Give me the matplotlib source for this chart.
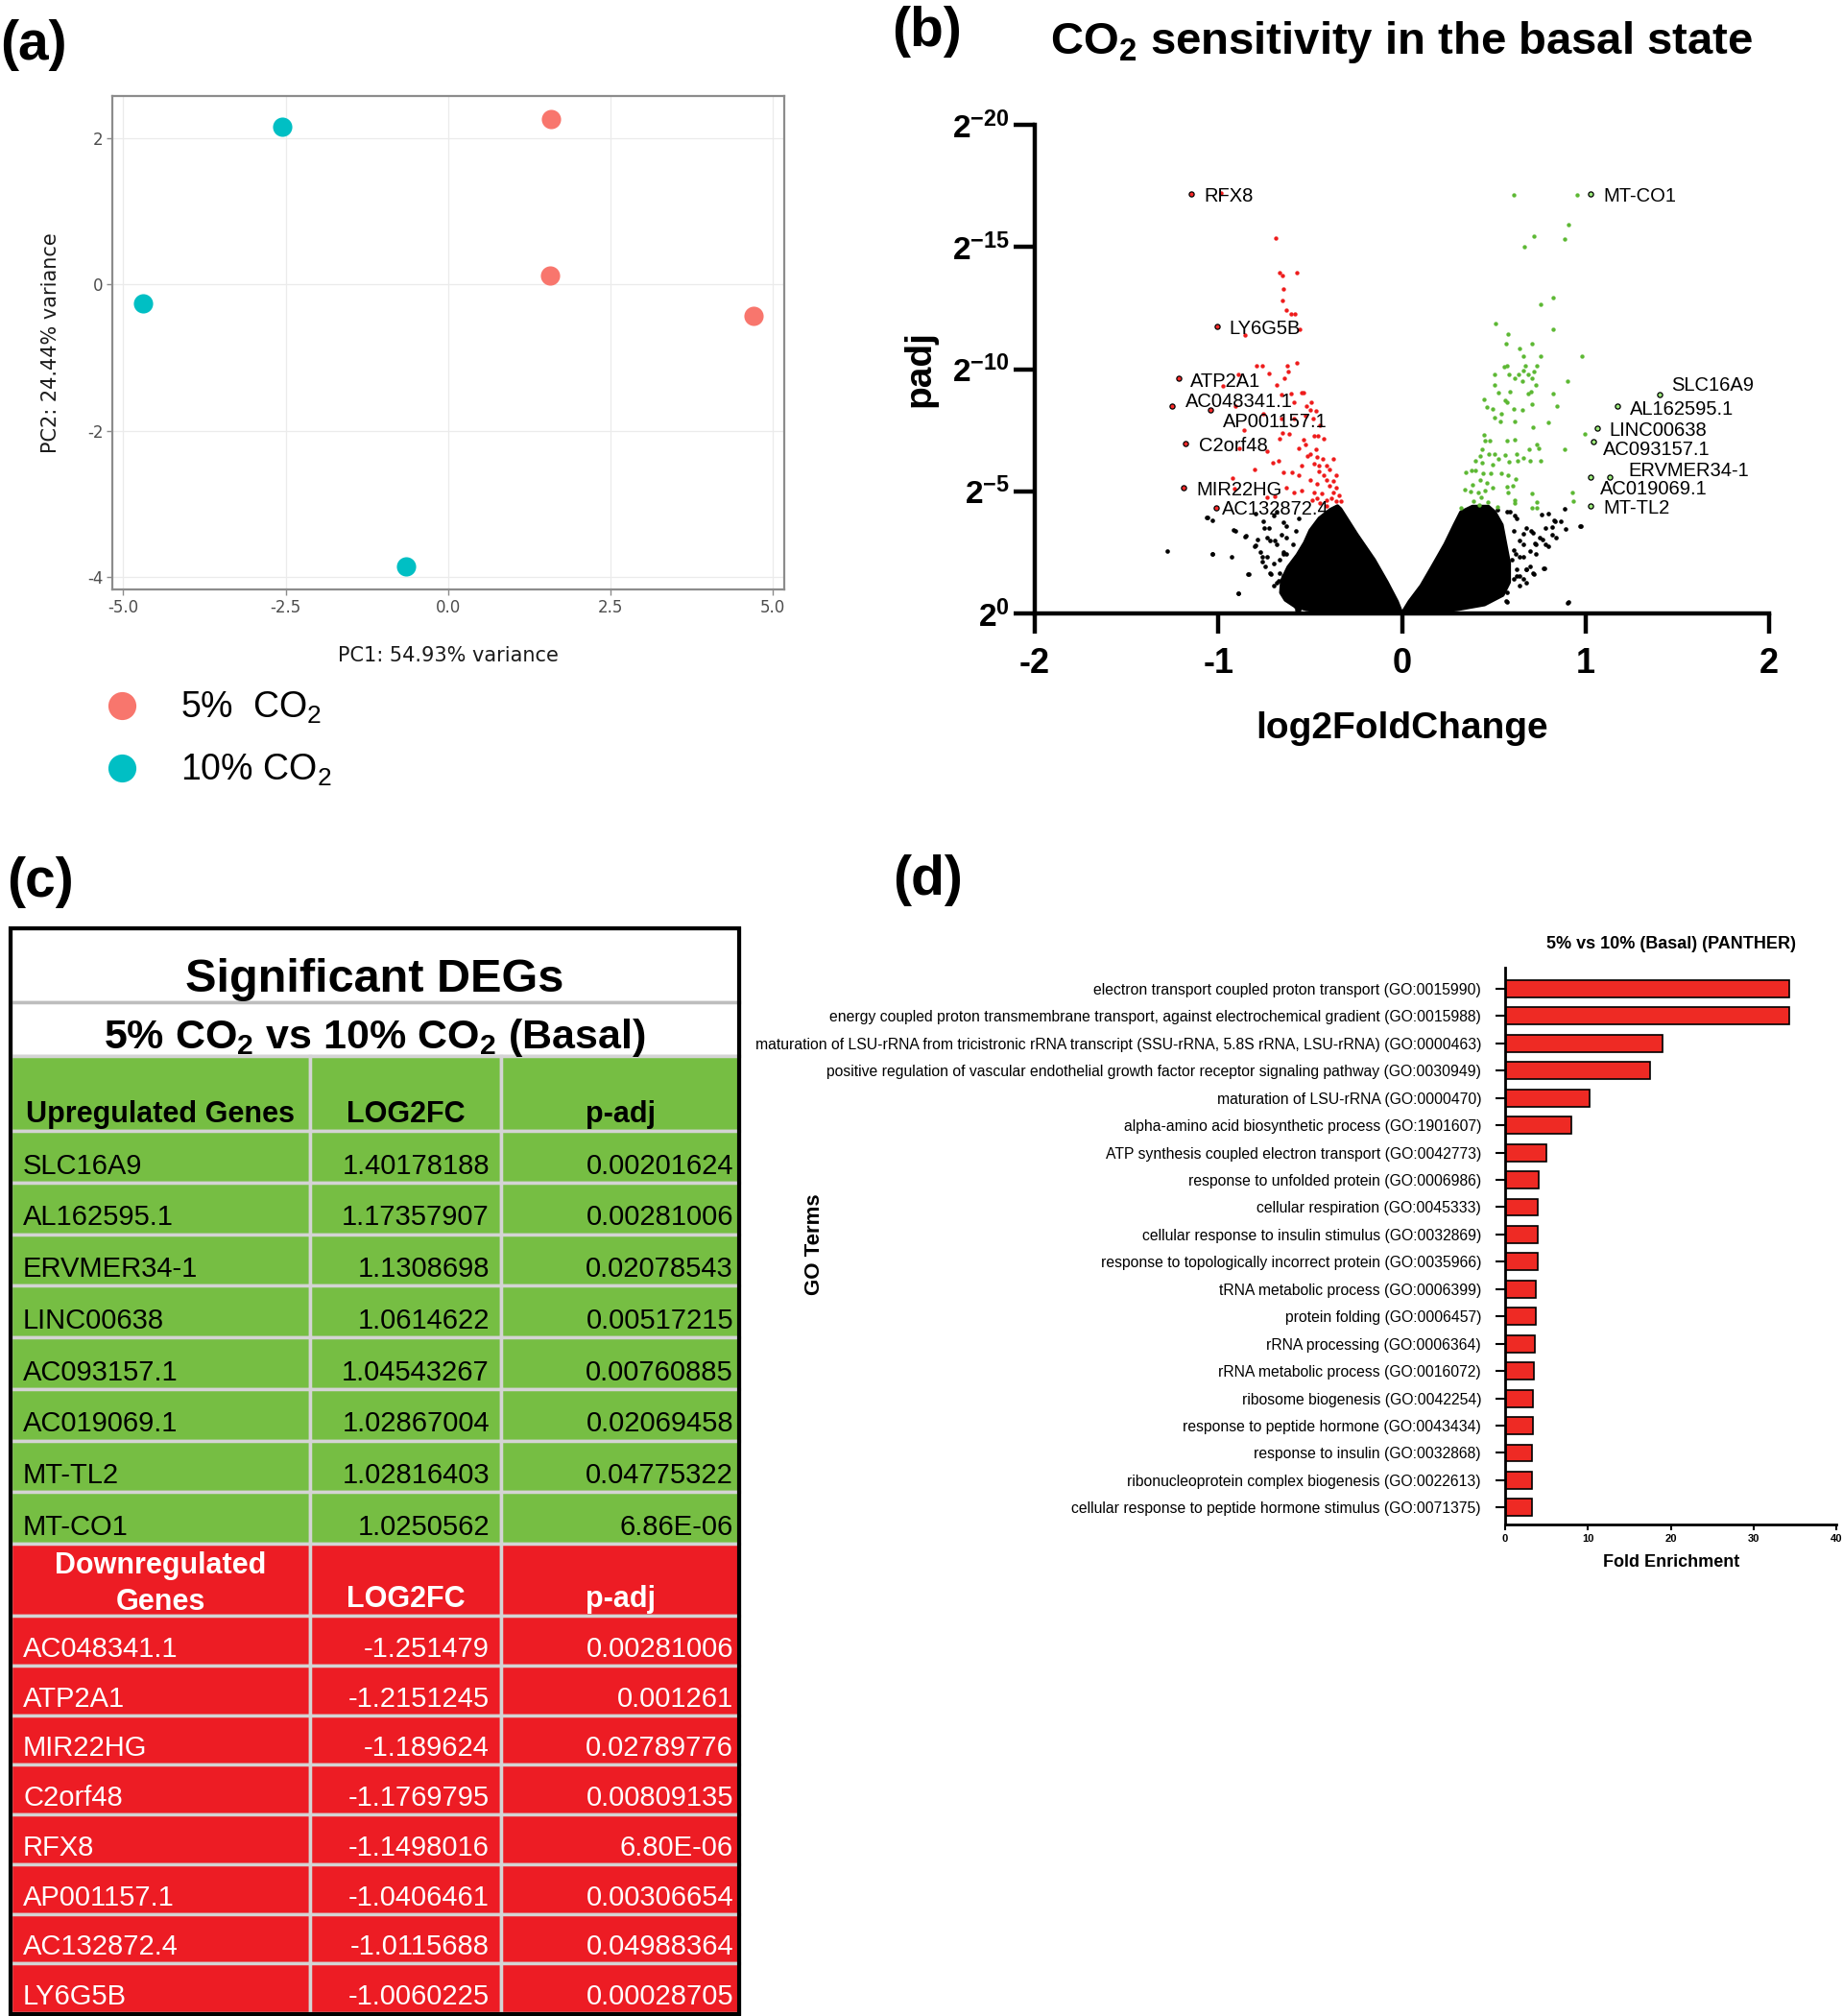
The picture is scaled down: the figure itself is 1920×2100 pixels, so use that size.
import numpy as np
import matplotlib
matplotlib.use('Agg')
import matplotlib.pyplot as plt
from matplotlib.lines import Line2D
from matplotlib.patches import Rectangle
from matplotlib.ticker import NullLocator

plt.rcParams['font.family'] = ['Liberation Sans', 'DejaVu Sans']
plt.rcParams['mathtext.fontset'] = 'custom'
plt.rcParams['mathtext.rm'] = 'Liberation Sans'
plt.rcParams['mathtext.bf'] = 'Liberation Sans:bold'
plt.rcParams['mathtext.it'] = 'Liberation Sans:italic'

# ---- (a) PCA ----
pca_pc1 = [1.59, 1.57, 4.71, -2.55, -4.69, -0.65]
pca_pc2 = [2.26, 0.13, -0.43, 2.16, -0.26, -3.85]
pca_group = ['5%', '5%', '5%', '10%', '10%', '10%']

# ---- (c) table / labelled genes in (b) ----
up_genes = ['SLC16A9', 'AL162595.1', 'ERVMER34-1', 'LINC00638', 'AC093157.1',
            'AC019069.1', 'MT-TL2', 'MT-CO1']
up_log2fc = ['1.40178188', '1.17357907', '1.1308698', '1.0614622', '1.04543267',
             '1.02867004', '1.02816403', '1.0250562']
up_padj = ['0.00201624', '0.00281006', '0.02078543', '0.00517215', '0.00760885',
           '0.02069458', '0.04775322', '6.86E-06']
down_genes = ['AC048341.1', 'ATP2A1', 'MIR22HG', 'C2orf48', 'RFX8', 'AP001157.1',
              'AC132872.4', 'LY6G5B']
down_log2fc = ['-1.251479', '-1.2151245', '-1.189624', '-1.1769795', '-1.1498016',
               '-1.0406461', '-1.0115688', '-1.0060225']
down_padj = ['0.00281006', '0.001261', '0.02789776', '0.00809135', '6.80E-06',
             '0.00306654', '0.04988364', '0.00028705']

# ---- (b) volcano: other genes, as (log2FC, -log2 padj) ----
red_fc = [-0.985, -0.689, -0.667, -0.650, -0.571, -0.646, -0.649, -0.628, -0.604, -0.585,
          -0.556, -0.857, -0.794, -0.761, -0.627, -0.571, -0.722, -0.622, -0.642, -0.892,
          -0.977, -0.680, -0.656, -0.603, -0.548, -0.536, -0.586, -0.519, -0.493, -0.470,
          -0.501, -0.909, -0.754, -0.655, -0.586, -0.528, -0.485, -0.445, -0.860, -0.667,
          -0.652, -0.614, -0.536, -0.479, -0.457, -0.428, -0.562, -0.528, -0.886, -0.737,
          -0.470, -0.513, -0.499, -0.462, -0.431, -0.376, -0.703, -0.672, -0.479, -0.452,
          -0.411, -0.394, -0.544, -0.805, -0.646, -0.598, -0.563, -0.452, -0.427, -0.359,
          -0.500, -0.921, -0.411, -0.376, -0.465, -0.394, -0.359, -0.913, -0.632, -0.589,
          -0.546, -0.479, -0.436, -0.376, -0.341, -0.737, -0.694, -0.488, -0.462, -0.411,
          -0.385, -0.359, -0.333, -0.445, -0.411]
red_nlp = [17.2, 15.36, 13.93, 13.84, 13.94, 13.30, 12.82, 12.43, 12.24, 12.24,
           11.65, 11.38, 10.13, 10.13, 10.13, 10.25, 9.81, 9.89, 9.62, 9.79,
           9.30, 9.36, 8.97, 8.99, 9.05, 9.02, 8.65, 8.49, 8.64, 8.29,
           8.34, 8.48, 8.17, 7.96, 7.99, 8.09, 7.96, 7.70, 7.50, 7.17,
           7.37, 7.33, 7.11, 7.28, 7.28, 7.15, 6.77, 6.90, 6.77, 6.64,
           6.71, 6.45, 6.52, 6.39, 6.32, 6.32, 6.16, 6.25, 6.12, 6.05,
           6.05, 5.89, 6.05, 5.89, 5.76, 5.76, 5.67, 5.80, 5.67, 5.67,
           5.48, 5.54, 5.48, 5.41, 5.29, 5.22, 5.16, 5.10, 5.16, 4.97,
           5.03, 4.97, 4.90, 4.97, 4.84, 4.77, 4.81, 4.64, 4.71, 4.64,
           4.71, 4.58, 4.58, 4.52, 4.39]
green_fc = [0.608, 0.956, 0.908, 0.887, 0.720, 0.669, 0.825, 0.755, 0.826, 0.512,
            0.580, 0.565, 0.708, 0.638, 0.659, 0.757, 0.980, 0.556, 0.570, 0.670,
            0.736, 0.507, 0.584, 0.612, 0.635, 0.664, 0.687, 0.718, 0.656, 0.709,
            0.730, 0.900, 0.507, 0.525, 0.586, 0.688, 0.704, 0.821, 0.445, 0.462,
            0.492, 0.560, 0.574, 0.540, 0.610, 0.656, 0.709, 0.846, 0.505, 0.537,
            0.612, 0.713, 0.798, 0.997, 0.445, 0.452, 0.479, 0.572, 0.612, 0.736,
            0.743, 0.694, 0.886, 0.434, 0.425, 0.472, 0.504, 0.528, 0.560, 0.626,
            0.664, 0.399, 0.434, 0.492, 0.584, 0.631, 0.696, 0.753, 0.350, 0.378,
            0.402, 0.443, 0.486, 0.539, 0.579, 0.619, 0.424, 0.462, 0.382, 0.605,
            0.574, 0.340, 0.374, 0.414, 0.451, 0.495, 0.579, 0.706, 0.926, 0.931,
            0.389, 0.430, 0.469, 0.420, 0.320, 0.612, 0.612, 0.734, 0.708, 0.736,
            0.521]
green_nlp = [17.15, 17.15, 15.91, 15.34, 15.46, 15.00, 12.91, 12.65, 11.63, 11.86,
             11.44, 11.06, 11.06, 10.86, 10.52, 10.52, 10.52, 10.08, 10.12, 10.12,
             10.12, 9.77, 9.78, 9.63, 9.78, 9.94, 9.78, 9.91, 9.51, 9.63,
             9.34, 9.51, 9.34, 9.04, 9.08, 8.99, 9.08, 8.98, 8.76, 8.45,
             8.36, 8.74, 8.63, 8.19, 8.37, 8.33, 8.58, 8.48, 8.02, 7.86,
             7.87, 7.62, 7.82, 7.35, 7.30, 7.09, 7.09, 7.06, 7.11, 6.90,
             6.77, 6.71, 6.72, 6.72, 6.44, 6.51, 6.51, 6.31, 6.47, 6.51,
             6.38, 6.24, 6.18, 6.11, 6.20, 6.24, 6.24, 6.24, 5.77, 5.87,
             5.87, 5.75, 5.72, 5.75, 5.66, 5.49, 5.47, 5.34, 5.27, 5.21,
             5.17, 5.07, 5.00, 4.96, 5.04, 5.13, 4.94, 4.90, 4.94, 4.58,
             4.61, 4.74, 4.55, 4.44, 4.32, 4.65, 4.52, 4.57, 4.32, 4.32,
             4.35]
ns_fc = [-1.279, -1.061, -1.035, -0.909, -0.853, -1.035, -0.927, -0.836, -0.892, -0.801,
         -0.759, -0.714, -0.674, -0.622, -0.564, -0.460, -0.682, -0.752, -0.717, -0.648,
         -0.648, -0.612, -0.560, -0.543, -0.368, -0.298, -0.575, -1.066, -0.918, -0.848,
         -0.796, -0.770, -0.735, -0.787, -0.735, -0.683, -0.630, -0.700, -0.665, -0.683,
         -1.031, -0.839, -0.891, -0.578, -0.560, -0.456, -0.299, -0.753, -0.700, -0.630,
         -0.578, -0.560, -0.796, -0.647, -0.595, -0.718, -0.726, -0.656, -0.691, -0.595,
         -0.744, -0.648, -0.700, -0.612, -0.595, -0.543, -0.665, -0.761, -0.630, -0.578,
         0.971, 0.901, 0.888, 0.867, 0.830, 0.891, 0.839, 0.783, 0.818, 0.795,
         0.762, 0.701, 0.664, 0.764, 0.795, 0.722, 0.696, 0.769, 0.717, 0.678,
         0.640, 0.608, 0.661, 0.565, 0.434, 0.364, 0.617, 0.613, 0.586, 0.521,
         0.574, 0.626, 0.678, 0.713, 0.731, 0.643, 0.609, 0.661, 0.696, 0.626,
         0.775, 0.784, 0.818, 0.836, 0.975, 0.905, 0.643, 0.574, 0.469, 0.574,
         0.713, 0.748, 0.609, 0.643, 0.678, 0.626, 0.731, 0.661, 0.600, 0.678]
ns_nlp = [2.55, 3.91, 3.82, 3.36, 3.15, 2.45, 2.33, 1.62, 0.81, 2.77,
          2.32, 1.61, 1.33, 0.55, 0.20, 0.35, 4.15, 3.49, 2.97, 3.75,
          2.45, 1.93, 1.27, 0.75, 0.22, 0.22, 0.15, 3.91, 3.43, 3.17,
          2.78, 2.51, 2.31, 3.04, 3.10, 2.84, 3.10, 2.05, 1.66, 1.27,
          2.45, 1.60, 0.81, 0.29, 0.16, 0.36, 0.36, 3.76, 4.02, 3.56,
          3.36, 3.89, 4.08, 2.51, 2.05, 1.66, 3.50, 3.24, 2.97, 2.84,
          1.92, 1.53, 1.14, 0.94, 1.27, 2.05, 2.19, 2.12, 2.45, 1.53,
          3.56, 0.42, 4.28, 3.76, 3.82, 3.44, 3.12, 3.49, 3.52, 4.08,
          4.04, 3.36, 3.26, 3.04, 2.74, 2.87, 2.55, 1.86, 1.63, 1.79,
          1.53, 1.40, 1.40, 0.51, 0.51, 0.42, 2.45, 4.02, 4.15, 4.24,
          4.15, 3.89, 3.49, 3.30, 2.84, 2.97, 2.58, 2.32, 1.93, 1.79,
          1.86, 2.84, 3.23, 3.76, 3.56, 0.49, 1.14, 0.49, 0.55, 0.88,
          1.66, 3.10, 3.37, 2.32, 1.79, 1.53, 2.45, 2.84, 2.19, 1.27]
# outline of the dense non-significant cloud
cloud_left_fc = [0.0, -0.20, -0.40, -0.52, -0.585, -0.635, -0.66, -0.655, -0.62, -0.57,
                 -0.53, -0.50, -0.45, -0.39, -0.351, -0.334, -0.246, -0.151, -0.081, -0.026,
                 0.0]
cloud_left_nlp = [0.0, 0.02, 0.06, 0.16, 0.30, 0.55, 0.85, 1.35, 1.90, 2.40,
                  2.90, 3.40, 3.90, 4.25, 4.40, 4.28, 3.24, 2.20, 1.28, 0.49,
                  0.0]
cloud_right_fc = [0.0, 0.04, 0.105, 0.166, 0.235, 0.286, 0.321, 0.384, 0.471, 0.506,
                  0.545, 0.565, 0.585, 0.585, 0.55, 0.45, 0.30, 0.12, 0.0]
cloud_right_nlp = [0.0, 0.49, 1.14, 1.93, 2.84, 3.63, 4.15, 4.38, 4.38, 4.15,
                   3.63, 2.84, 2.06, 1.28, 0.75, 0.36, 0.16, 0.02, 0.0]

# ---- (d) GO enrichment ----
go_terms = [
    'electron transport coupled proton transport (GO:0015990)',
    'energy coupled proton transmembrane transport, against electrochemical gradient (GO:0015988)',
    'maturation of LSU-rRNA from tricistronic rRNA transcript (SSU-rRNA, 5.8S rRNA, LSU-rRNA) (GO:0000463)',
    'positive regulation of vascular endothelial growth factor receptor signaling pathway (GO:0030949)',
    'maturation of LSU-rRNA (GO:0000470)',
    'alpha-amino acid biosynthetic process (GO:1901607)',
    'ATP synthesis coupled electron transport (GO:0042773)',
    'response to unfolded protein (GO:0006986)',
    'cellular respiration (GO:0045333)',
    'cellular response to insulin stimulus (GO:0032869)',
    'response to topologically incorrect protein (GO:0035966)',
    'tRNA metabolic process (GO:0006399)',
    'protein folding (GO:0006457)',
    'rRNA processing (GO:0006364)',
    'rRNA metabolic process (GO:0016072)',
    'ribosome biogenesis (GO:0042254)',
    'response to peptide hormone (GO:0043434)',
    'response to insulin (GO:0032868)',
    'ribonucleoprotein complex biogenesis (GO:0022613)',
    'cellular response to peptide hormone stimulus (GO:0071375)',
]
fold_enrichment = [34.3, 34.3, 19.0, 17.5, 10.2, 8.0, 5.0, 4.0, 3.95, 3.95,
                   3.95, 3.7, 3.7, 3.6, 3.45, 3.4, 3.4, 3.3, 3.3, 3.3]

# label offsets in pixels (right, down) for the volcano gene names
label_offset = {
    'RFX8': (13.7, 2), 'LY6G5B': (12.7, 3.3), 'ATP2A1': (12, 3.7),
    'AC048341.1': (13.3, -5), 'AP001157.1': (12.3, 12.7), 'C2orf48': (13.3, 2.3),
    'MIR22HG': (13.3, 2.7), 'AC132872.4': (6, 1.7), 'MT-CO1': (13.7, 2),
    'AL162595.1': (12.7, 2.7), 'LINC00638': (12.7, 2.3), 'AC093157.1': (9.7, 9),
    'ERVMER34-1': (20, -6), 'AC019069.1': (10, 12.7), 'MT-TL2': (13.7, 2.3),
    'SLC16A9': (13, -10),
}

W, H = 1920, 2100
fig = plt.figure(figsize=(W / 100, H / 100), dpi=100)


def box(l, t, r, b):
    return [l / W, 1 - b / H, (r - l) / W, (b - t) / H]


def fx(x):
    return x / W


def fy(y):
    return 1 - y / H


for lab, x, y in [('(a)', 0, 47), ('(b)', 929, 33), ('(c)', 7, 919), ('(d)', 930, 917)]:
    fig.text(fx(x), fy(y), lab, fontsize=41, weight='bold', ha='left', va='center')

# ================= (a) PCA =================
pca_colors = {'5%': '#F8766D', '10%': '#00BFC4'}
ax = fig.add_axes(box(117, 100, 817, 614))
for g in ['5%', '10%']:
    xs = [x for x, gg in zip(pca_pc1, pca_group) if gg == g]
    ys = [y for y, gg in zip(pca_pc2, pca_group) if gg == g]
    ax.scatter(xs, ys, s=210, color=pca_colors[g], lw=0, zorder=3)
ax.set_xlim(-5.17, 5.18)
ax.set_ylim(-4.17, 2.58)
ax.set_xticks([-5, -2.5, 0, 2.5, 5])
ax.set_xticklabels(['-5.0', '-2.5', '0.0', '2.5', '5.0'], family='DejaVu Sans')
ax.set_yticks([-4, -2, 0, 2])
ax.set_yticklabels(['-4', '-2', '0', '2'], family='DejaVu Sans')
ax.grid(color='#EBEBEB', lw=0.9)
ax.set_axisbelow(True)
for s in ax.spines.values():
    s.set_color('#8C8C8C')
    s.set_linewidth(1.6)
ax.tick_params(colors='#8C8C8C', labelcolor='#4D4D4D', labelsize=12, length=4, width=1, pad=3)
ax.set_xlabel('PC1: 54.93% variance', family='DejaVu Sans', fontsize=15, color='#1A1A1A')
ax.set_ylabel('PC2: 24.44% variance', family='DejaVu Sans', fontsize=15, color='#1A1A1A')
ax.xaxis.set_label_coords(0.5, -0.115)
ax.yaxis.set_label_coords(-0.077, 0.5)

handles = [Line2D([], [], marker='o', ls='', color=pca_colors[g], markersize=21, mew=0)
           for g in ['5%', '10%']]
fig.legend(handles, ['5%  CO$_2$', '10% CO$_2$'], loc='upper left',
           bbox_to_anchor=(fx(108), fy(719)), frameon=False, fontsize=27,
           handlelength=1.0, handletextpad=1.14, labelspacing=0.74,
           borderpad=0, borderaxespad=0)

# ================= (b) volcano =================
bx = fig.add_axes(box(1078, 130, 1843, 639))
bx.set_yscale('log', base=2)
for cfc, cnl in [(cloud_left_fc, cloud_left_nlp), (cloud_right_fc, cloud_right_nlp)]:
    bx.fill(cfc, 2.0 ** -np.array(cnl), facecolor='black', edgecolor='black',
            lw=2.5, joinstyle='round', zorder=2)
bx.scatter(ns_fc, 2.0 ** -np.array(ns_nlp), s=11, c='black', lw=0, zorder=2)
bx.scatter(red_fc, 2.0 ** -np.array(red_nlp), s=10, c='#EE1C1C', lw=0, zorder=3)
bx.scatter(green_fc, 2.0 ** -np.array(green_nlp), s=10, c='#5DB834', lw=0, zorder=3)
dfc = [float(v) for v in down_log2fc]
dp = [float(v) for v in down_padj]
ufc = [float(v) for v in up_log2fc]
upp = [float(v) for v in up_padj]
bx.scatter(dfc, dp, s=14, facecolor='#FF2A2A', edgecolor='black', lw=0.9, zorder=4)
bx.scatter(ufc, upp, s=14, facecolor='#9BEA7A', edgecolor='black', lw=0.9, zorder=4)
for g, x, p in zip(down_genes + up_genes, dfc + ufc, dp + upp):
    dx, dy = label_offset[g]
    bx.annotate(g, (x, p), xytext=(dx * 0.72, -dy * 0.72), textcoords='offset points',
                ha='left', va='center', fontsize=14.5, zorder=5)
bx.set_xlim(-2, 2)
bx.set_ylim(1, 2.0 ** -20)
bx.set_xticks([-2, -1, 0, 1, 2])
bx.set_xticklabels(['-2', '-1', '0', '1', '2'], fontsize=26, weight='bold')
yt = [0, 5, 10, 15, 20]
bx.set_yticks([2.0 ** -k for k in yt])
bx.set_yticklabels([r'$\mathbf{2^{%s}}$' % ('-%d' % k if k else '0') for k in yt], fontsize=24)
bx.yaxis.set_minor_locator(NullLocator())
for s in ['top', 'right']:
    bx.spines[s].set_visible(False)
for s in ['left', 'bottom']:
    bx.spines[s].set_linewidth(3.2)
bx.tick_params(axis='x', length=15, width=3.2, pad=10)
bx.tick_params(axis='y', length=16, width=3.2, pad=3)
bx.set_xlabel('log2FoldChange', fontsize=28, weight='bold')
bx.set_ylabel('padj', fontsize=28, weight='bold')
bx.xaxis.set_label_coords(0.5, -0.2)
bx.yaxis.set_label_coords(-0.133, 0.5)
fig.text(fx(1460), fy(44), r'$\mathbf{CO_2}$ sensitivity in the basal state',
         fontsize=34, weight='bold', ha='center', va='center')

# ================= (c) table =================
tab = fig.add_axes(box(11, 967, 770, 2098))
tab.set_xlim(0, 759)
tab.set_ylim(1131, 0)
tab.axis('off')
col_edges = [0, 312, 511, 759]
green, red, grid_c = '#76BE43', '#ED1C24', '#D4D4D4'

tab.add_patch(Rectangle((0, 0), 759, 77, fc='white', ec='#BDBDBD', lw=2.5, clip_on=False))
tab.add_patch(Rectangle((0, 77), 759, 56, fc='white', ec='#BDBDBD', lw=2.5, clip_on=False))
tab.text(379.5, 66, 'Significant DEGs', fontsize=35, weight='bold', ha='center', va='baseline')
tab.text(379.5, 125, r'$\mathbf{5\%\ CO_2\ vs\ 10\%\ CO_2\ (Basal)}$', fontsize=31,
         ha='center', va='baseline')


def cell_row(y0, h, fill):
    for c in range(3):
        tab.add_patch(Rectangle((col_edges[c], y0), col_edges[c + 1] - col_edges[c], h,
                                fc=fill, ec=grid_c, lw=2.5, clip_on=False))


def block(y0, head_h, row_h, fill, tcolor, head_text, genes, fcs, pads):
    cell_row(y0, head_h, fill)
    for i, (txt, base) in enumerate(head_text):
        tab.text((col_edges[i] + col_edges[i + 1]) / 2 if i < 3 else 156, y0 + base, txt,
                 fontsize=22, weight='bold', color=tcolor, ha='center', va='baseline')
    y = y0 + head_h
    for g, f, p in zip(genes, fcs, pads):
        cell_row(y, row_h, fill)
        base = y + 0.83 * row_h
        tab.text(13, base, g, fontsize=21, color=tcolor, ha='left', va='baseline')
        tab.text(499, base, f, fontsize=21, color=tcolor, ha='right', va='baseline')
        tab.text(753, base, p, fontsize=21, color=tcolor, ha='right', va='baseline')
        y += row_h
    return y


y_end = block(133, 78, 53.75, green, 'black',
              [('Upregulated Genes', 69), ('LOG2FC', 69), ('p-adj', 69)],
              up_genes, up_log2fc, up_padj)
block(y_end, 75, 51.75, red, 'white',
      [('Genes', 69), ('LOG2FC', 66), ('p-adj', 66), ('Downregulated', 31)],
      down_genes, down_log2fc, down_padj)
tab.add_patch(Rectangle((0, 0), 759, 1131, fill=False, ec='black', lw=3, clip_on=False, zorder=5))

# ================= (d) GO bars =================
dx_ = fig.add_axes(box(1568, 1008, 1913, 1588))
ypos = np.arange(len(go_terms))
dx_.barh(ypos, fold_enrichment, height=0.63, color='#EE2A24', edgecolor='black', lw=1.2)
dx_.set_ylim(19.62, -0.77)
dx_.set_xlim(0, 40)
dx_.set_yticks(ypos)
dx_.set_yticklabels(go_terms, fontsize=11.3)
dx_.set_xticks([0, 10, 20, 30, 40])
dx_.set_xticklabels(['0', '10', '20', '30', '40'], fontsize=8, weight='bold')
for s in ['top', 'right']:
    dx_.spines[s].set_visible(False)
for s in ['left', 'bottom']:
    dx_.spines[s].set_linewidth(2)
dx_.tick_params(axis='y', length=7, width=1.5, pad=11)
dx_.tick_params(axis='x', length=4, width=1.5, pad=3)
dx_.set_xlabel('Fold Enrichment', fontsize=13, weight='bold')
dx_.xaxis.set_label_coords(0.501, -0.053)
fig.text(fx(1741), fy(983), '5% vs 10% (Basal) (PANTHER)', fontsize=13, weight='bold',
         ha='center', va='center')
fig.text(fx(848), fy(1296), 'GO Terms', fontsize=16, weight='bold', rotation=90,
         ha='center', va='center')

fig.savefig('out.png', dpi=100)
